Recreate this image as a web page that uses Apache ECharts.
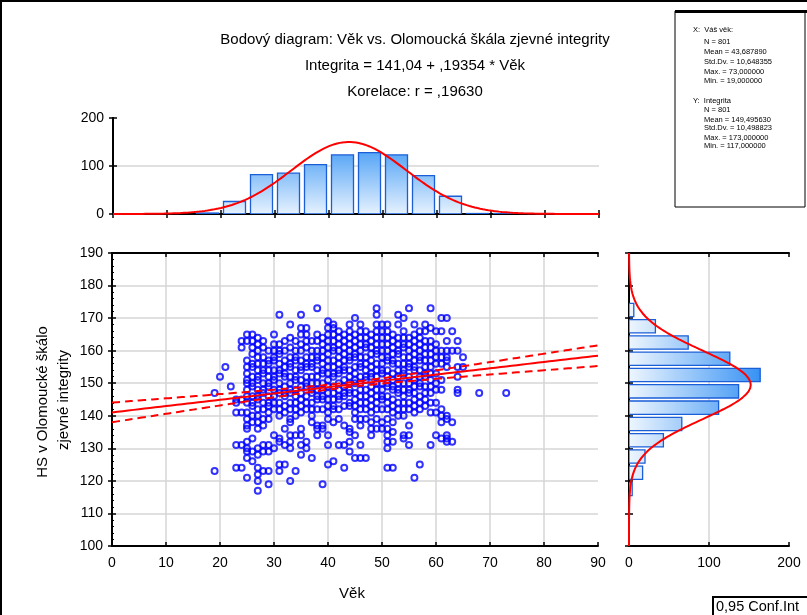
<!DOCTYPE html>
<html><head><meta charset="utf-8">
<script src="https://cdn.jsdelivr.net/npm/echarts@6/dist/echarts.min.js"></script>
<style>html,body{margin:0;padding:0;background:#fff}#c{width:807px;height:615px}</style>
</head><body><div id="c"></div>
<script>
// ---------- texts ----------
const titleLines = ['Bodový diagram: Věk vs. Olomoucká škála zjevné integrity', 'Integrita = 141,04 + ,19354 * Věk', 'Korelace: r = ,19630'];
const xStatsLines = ['X:  Váš věk:', 'N = 801', 'Mean = 43,687890', 'Std.Dv. = 10,648355', 'Max. = 73,000000', 'Min. = 19,000000'];
const yStatsLines = ['Y:  Integrita', 'N = 801', 'Mean = 149,495630', 'Std.Dv. = 10,498823', 'Max. = 173,000000', 'Min. = 117,000000'];
const xAxisName = 'Věk';
const yAxisNameLines = ['HS v Olomoucké škálo', 'zjevné integrity'];
const legendText = '0,95 Conf.Int';

// ---------- statistics shown in the chart ----------
const nObs = 801;
const ageMean = 43.687890, ageSd = 10.648355;
const scoreMean = 149.495630, scoreSd = 10.498823;
const regIntercept = 141.04, regSlope = 0.19354, corrR = 0.19630;
const tCrit = 1.963;

// ---------- histogram of age (top) ----------
const ageBinStarts = [15, 20, 25, 30, 35, 40, 45, 50, 55, 60, 65, 70];
const ageBinCounts = [2, 26, 82, 85, 103, 123, 128, 123, 80, 37, 1, 1];
const ageBinWidth = 5;

// ---------- histogram of score (right) ----------
const scoreBinStarts = [115, 120, 125, 130, 135, 140, 145, 150, 155, 160, 165, 170];
const scoreBinCounts = [4, 17, 20, 43, 66, 112, 137, 164, 126, 74, 33, 6];
const scoreBinWidth = 5;

// ---------- scatter: [age, scores at that age] ----------
const scatterColumns = [
  [19, [147, 123]],
  [20, [152]],
  [21, [155]],
  [22, [149]],
  [23, [145, 144, 141, 131, 124]],
  [24, [163, 161, 145, 141, 131, 124]],
  [25, [165, 163, 157, 155, 153, 151, 150, 148, 146, 144, 141, 139, 137, 136, 132, 130, 129, 127, 121]],
  [26, [165, 163, 161, 159, 156, 155, 152, 150, 149, 146, 144, 143, 140, 138, 133, 129, 126]],
  [27, [164, 162, 160, 158, 156, 154, 152, 151, 148, 146, 145, 142, 140, 138, 136, 130, 128, 124, 122, 120, 117]],
  [28, [163, 161, 158, 156, 154, 153, 150, 148, 147, 144, 142, 139, 137, 131, 129, 123]],
  [29, [160, 157, 156, 154, 152, 150, 149, 146, 144, 143, 141, 139, 131, 129, 123, 119]],
  [30, [165, 162, 160, 158, 157, 154, 152, 151, 148, 146, 144, 142, 134, 130]],
  [31, [171, 162, 160, 159, 156, 154, 153, 150, 148, 147, 144, 142, 140, 133, 132, 125, 123]],
  [32, [163, 160, 157, 155, 153, 152, 149, 147, 146, 143, 141, 136, 131, 125]],
  [33, [168, 164, 161, 158, 156, 155, 152, 150, 148, 147, 144, 142, 139, 138, 134, 132, 130, 120]],
  [34, [163, 160, 158, 157, 154, 152, 151, 148, 146, 144, 142, 140, 134, 123]],
  [35, [171, 167, 165, 162, 160, 157, 155, 154, 151, 149, 147, 145, 143, 141, 136, 134, 131, 128]],
  [36, [167, 165, 163, 161, 158, 156, 155, 152, 150, 149, 146, 144, 142, 132, 130]],
  [37, [163, 160, 158, 156, 155, 152, 150, 148, 147, 144, 142, 140, 138, 127]],
  [38, [173, 165, 163, 160, 158, 157, 154, 152, 150, 148, 146, 145, 142, 137, 136, 134]],
  [39, [164, 162, 160, 158, 156, 154, 153, 150, 148, 146, 145, 142, 137, 136, 119]],
  [40, [169, 167, 165, 163, 161, 159, 157, 155, 153, 151, 149, 147, 145, 143, 141, 139, 134, 131, 125]],
  [41, [168, 167, 165, 163, 161, 160, 157, 155, 153, 152, 149, 147, 145, 143, 142, 138, 126]],
  [42, [166, 164, 162, 160, 158, 156, 154, 153, 150, 148, 146, 145, 142, 139, 131]],
  [43, [165, 163, 161, 159, 157, 155, 154, 151, 149, 147, 146, 143, 137, 131, 124]],
  [44, [168, 166, 164, 162, 160, 158, 157, 154, 152, 150, 148, 147, 144, 143, 136, 135, 132, 129]],
  [45, [170, 165, 163, 161, 159, 158, 155, 153, 151, 150, 147, 145, 143, 141, 139, 134, 127]],
  [46, [168, 166, 164, 162, 160, 158, 156, 155, 152, 150, 148, 146, 144, 142, 139, 137, 131, 127]],
  [47, [166, 164, 162, 161, 158, 156, 154, 152, 151, 148, 146, 144, 142, 139, 127]],
  [48, [165, 163, 161, 159, 157, 155, 153, 152, 149, 147, 145, 143, 141, 138, 136, 134]],
  [49, [173, 171, 168, 166, 164, 162, 160, 159, 156, 154, 152, 150, 148, 146, 144, 142, 139, 136]],
  [50, [168, 166, 164, 162, 160, 158, 156, 154, 153, 150, 148, 146, 145, 142, 138, 136]],
  [51, [168, 166, 164, 162, 160, 158, 157, 154, 152, 150, 149, 146, 144, 142, 139, 136, 134, 132, 130, 124]],
  [52, [165, 163, 161, 159, 157, 156, 153, 151, 149, 148, 145, 143, 141, 138, 135, 132, 124]],
  [53, [171, 168, 164, 162, 160, 159, 156, 154, 152, 150, 148, 147, 144, 142, 140]],
  [54, [170, 166, 164, 162, 161, 158, 156, 154, 153, 150, 148, 146, 144, 142, 140, 134, 133]],
  [55, [173, 164, 162, 160, 158, 156, 155, 152, 150, 148, 147, 144, 142, 137, 134, 131]],
  [56, [168, 165, 163, 161, 159, 157, 155, 154, 151, 149, 147, 145, 143, 141, 121]],
  [57, [166, 164, 162, 160, 158, 157, 154, 152, 150, 149, 146, 144, 142, 125]],
  [58, [168, 166, 163, 161, 159, 157, 155, 153, 152, 149, 147, 145, 143]],
  [59, [173, 167, 163, 161, 159, 157, 155, 153, 151, 149, 147, 144, 141, 131]],
  [60, [166, 162, 160, 158, 156, 153, 150, 148, 144, 141, 134]],
  [61, [170, 166, 160, 158, 156, 151, 148, 142, 140, 138, 133]],
  [62, [170, 163, 160, 158, 157, 155, 140, 139, 134, 133, 132]],
  [63, [166, 160, 138, 132]],
  [64, [163, 160, 155, 152, 148, 147]],
  [65, [158, 155]],
  [68, [147]],
  [73, [147]]
];

// ---------- derived ----------
const scatterPoints = [];
scatterColumns.forEach(function (c) { c[1].forEach(function (v) { scatterPoints.push([c[0], v]); }); });

function normalCount(x, mean, sd, n, w) {
  return n * w * Math.exp(-0.5 * Math.pow((x - mean) / sd, 2)) / (sd * Math.sqrt(2 * Math.PI));
}
const ageCurve = [];
for (let x = 0; x <= 90.001; x += 0.5) ageCurve.push([x, normalCount(x, ageMean, ageSd, nObs, ageBinWidth)]);
const scoreCurve = [];
for (let y = 100; y <= 190.001; y += 0.5) scoreCurve.push([normalCount(y, scoreMean, scoreSd, nObs, scoreBinWidth), y]);

const sxx = (nObs - 1) * ageSd * ageSd;
const residSd = scoreSd * Math.sqrt((1 - corrR * corrR) * (nObs - 1) / (nObs - 2));
const regLine = [], ciUpper = [], ciLower = [];
for (let x = 0; x <= 90.001; x += 1) {
  const yh = regIntercept + regSlope * x;
  const se = residSd * Math.sqrt(1 / nObs + (x - ageMean) * (x - ageMean) / sxx);
  regLine.push([x, yh]);
  ciUpper.push([x, yh + tCrit * se]);
  ciLower.push([x, yh - tCrit * se]);
}

const FONT = 'Liberation Sans, Arial, sans-serif';
const grids = {
  top: { left: 113, top: 118, width: 486, height: 96 },
  main: { left: 112, top: 253, width: 486, height: 293 },
  side: { left: 629, top: 253, width: 160, height: 293 }
};

const vGrad = new echarts.graphic.LinearGradient(0, 140, 0, 214, [
  { offset: 0, color: '#3a96f5' }, { offset: 1, color: '#e6f2fe' }], true);
const hGrad = new echarts.graphic.LinearGradient(629, 0, 760, 0, [
  { offset: 0, color: '#eef6fe' }, { offset: 1, color: '#3792f4' }], true);

function topBars(params, api) {
  const s = api.value(0), e = api.value(1), c = api.value(2);
  const p0 = api.coord([s, 0]), p1 = api.coord([e, c]);
  return { type: 'rect', shape: { x: p0[0] + 2.5, y: p1[1], width: p1[0] - p0[0] - 5, height: p0[1] - p1[1] },
    style: { fill: vGrad, stroke: '#1a5ed8', lineWidth: 1.3 } };
}
function sideBars(params, api) {
  const s = api.value(0), e = api.value(1), c = api.value(2);
  const p0 = api.coord([0, s]), p1 = api.coord([c, e]);
  return { type: 'rect', shape: { x: p0[0], y: p1[1] + 1.5, width: p1[0] - p0[0], height: p0[1] - p1[1] - 3 },
    style: { fill: hGrad, stroke: '#1a5ed8', lineWidth: 1.3 } };
}

const axisLineBlack = { show: true, lineStyle: { color: '#000', width: 2 } };
const labelStyle = { color: '#000', fontFamily: FONT, fontSize: 14 };
const gridSplit = { show: true, showMinLine: false, showMaxLine: false, lineStyle: { color: '#d6d6d6', width: 1.5 } };

function tickAxis(base) {
  return Object.assign({ type: 'value', axisLine: axisLineBlack, axisLabel: { show: false },
    axisTick: { show: true, inside: true, length: 4, lineStyle: { color: '#000', width: 1.5 } },
    splitLine: { show: false } }, base);
}

const option = {
  animation: false,
  backgroundColor: '#fff',
  grid: [
    Object.assign({ show: false }, grids.top),
    Object.assign({ show: false }, grids.main),
    Object.assign({ show: false }, grids.side)
  ],
  xAxis: [
    tickAxis({ gridIndex: 0, min: 0, max: 90, interval: 10, position: 'bottom' }),
    tickAxis({ gridIndex: 0, min: 0, max: 90, interval: 10, position: 'top' }),
    tickAxis({ gridIndex: 1, min: 0, max: 90, interval: 10, position: 'bottom',
      axisLabel: Object.assign({ show: true, margin: 10 }, labelStyle), splitLine: gridSplit }),
    tickAxis({ gridIndex: 1, min: 0, max: 90, interval: 10, position: 'top' }),
    tickAxis({ gridIndex: 2, min: 0, max: 200, interval: 100, position: 'bottom',
      axisLabel: Object.assign({ show: true, margin: 10 }, labelStyle), splitLine: gridSplit }),
    tickAxis({ gridIndex: 2, min: 0, max: 200, interval: 100, position: 'top' })
  ],
  yAxis: [
    tickAxis({ gridIndex: 0, min: 0, max: 200, interval: 100, position: 'left',
      axisLabel: Object.assign({ show: true, margin: 9 }, labelStyle), splitLine: gridSplit }),
    tickAxis({ gridIndex: 0, min: 0, max: 200, interval: 100, position: 'right' }),
    tickAxis({ gridIndex: 1, min: 100, max: 190, interval: 10, position: 'left',
      axisLabel: Object.assign({ show: true, margin: 9 }, labelStyle), splitLine: gridSplit,
      minorTick: { show: true, splitNumber: 5, length: 2, lineStyle: { color: '#000' } } }),
    tickAxis({ gridIndex: 1, min: 100, max: 190, interval: 10, position: 'right' }),
    tickAxis({ gridIndex: 2, min: 100, max: 190, interval: 10, position: 'left' }),
    tickAxis({ gridIndex: 2, min: 100, max: 190, interval: 10, position: 'right' })
  ],
  series: [
    { type: 'custom', xAxisIndex: 0, yAxisIndex: 0, renderItem: topBars, clip: true,
      data: ageBinStarts.map(function (s, i) { return [s, s + ageBinWidth, ageBinCounts[i]]; }), z: 2 },
    { type: 'line', xAxisIndex: 0, yAxisIndex: 0, data: ageCurve, showSymbol: false, smooth: false,
      lineStyle: { color: '#ff0000', width: 2 }, z: 3 },
    { type: 'scatter', xAxisIndex: 2, yAxisIndex: 2, data: scatterPoints, symbol: 'circle', symbolSize: 6,
      itemStyle: { color: 'rgba(0,0,0,0)', borderColor: '#0000ff', borderWidth: 2 }, z: 2 },
    { type: 'line', xAxisIndex: 2, yAxisIndex: 2, data: regLine, showSymbol: false,
      lineStyle: { color: '#ff0000', width: 2 }, z: 4 },
    { type: 'line', xAxisIndex: 2, yAxisIndex: 2, data: ciUpper, showSymbol: false, smooth: true,
      lineStyle: { color: '#ff0000', width: 2, type: [8, 5] }, z: 4 },
    { type: 'line', xAxisIndex: 2, yAxisIndex: 2, data: ciLower, showSymbol: false, smooth: true,
      lineStyle: { color: '#ff0000', width: 2, type: [8, 5] }, z: 4 },
    { type: 'custom', xAxisIndex: 4, yAxisIndex: 4, renderItem: sideBars, clip: true,
      data: scoreBinStarts.map(function (s, i) { return [s, s + scoreBinWidth, scoreBinCounts[i]]; }), z: 2 },
    { type: 'line', xAxisIndex: 4, yAxisIndex: 4, data: scoreCurve, showSymbol: false,
      lineStyle: { color: '#ff0000', width: 2 }, z: 3 }
  ],
  graphic: [
    { type: 'rect', shape: { x: 0, y: 0, width: 807, height: 2 }, style: { fill: '#000' } },
    { type: 'rect', shape: { x: 0, y: 0, width: 2, height: 615 }, style: { fill: '#000' } },
    { type: 'text', x: 415, y: 40, style: { text: titleLines[0], font: '15px ' + FONT, fill: '#000', align: 'center', verticalAlign: 'middle' } },
    { type: 'text', x: 415, y: 66, style: { text: titleLines[1], font: '15px ' + FONT, fill: '#000', align: 'center', verticalAlign: 'middle' } },
    { type: 'text', x: 415, y: 92, style: { text: titleLines[2], font: '15px ' + FONT, fill: '#000', align: 'center', verticalAlign: 'middle' } },
    { type: 'rect', shape: { x: 675, y: 11, width: 130, height: 196 }, style: { fill: '#fff', stroke: '#000', lineWidth: 1 } },
    { type: 'rect', shape: { x: 675, y: 10, width: 132, height: 3 }, style: { fill: '#000' } },
    { type: 'group', children: xStatsLines.map(function (t, i) {
        return { type: 'text', x: i === 0 ? 693 : 704, y: [30, 42, 52, 62, 72, 81][i],
          style: { text: t, font: '7.5px ' + FONT, fill: '#000', verticalAlign: 'middle' } };
      }) },
    { type: 'group', children: yStatsLines.map(function (t, i) {
        return { type: 'text', x: i === 0 ? 693 : 704, y: [101, 110, 120, 128, 138, 146][i],
          style: { text: t, font: '7.5px ' + FONT, fill: '#000', verticalAlign: 'middle' } };
      }) },
    { type: 'text', x: 352, y: 594, style: { text: xAxisName, font: '15px ' + FONT, fill: '#000', align: 'center', verticalAlign: 'middle' } },
    { type: 'text', x: 43, y: 402, rotation: Math.PI / 2, style: { text: yAxisNameLines[0], font: '15px ' + FONT, fill: '#000', align: 'center', verticalAlign: 'middle' } },
    { type: 'text', x: 64, y: 400, rotation: Math.PI / 2, style: { text: yAxisNameLines[1], font: '15px ' + FONT, fill: '#000', align: 'center', verticalAlign: 'middle' } },
    { type: 'rect', shape: { x: 713, y: 597, width: 96, height: 20 }, style: { fill: '#fff', stroke: '#000', lineWidth: 2 } },
    { type: 'text', x: 716, y: 607, style: { text: legendText, font: '14.5px ' + FONT, fill: '#000', verticalAlign: 'middle' } }
  ]
};
echarts.init(document.getElementById('c'), null, { renderer: 'canvas' }).setOption(option);
</script></body></html>
